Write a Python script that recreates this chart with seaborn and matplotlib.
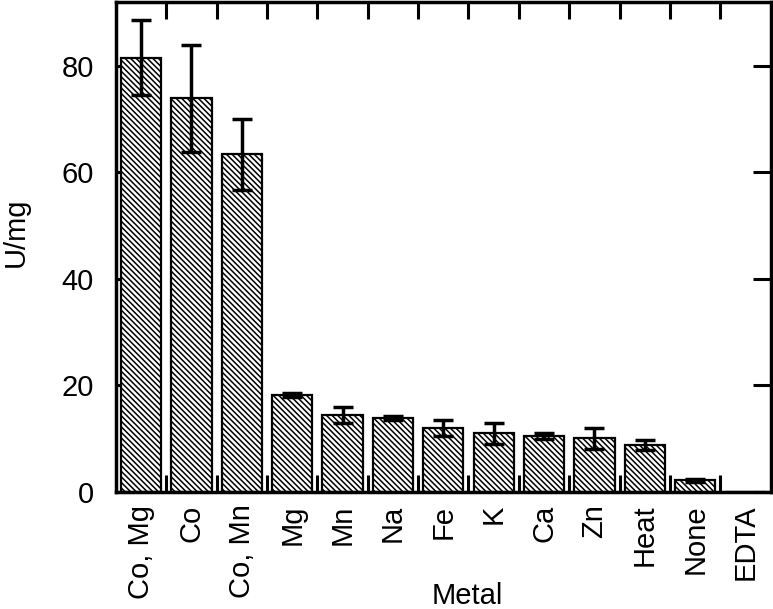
import matplotlib
matplotlib.use("Agg")
import matplotlib.pyplot as plt
import seaborn as sns
import numpy as np
import pandas as pd
from matplotlib.ticker import FixedLocator

metals = ["Co, Mg", "Co", "Co, Mn", "Mg", "Mn", "Na", "Fe", "K", "Ca", "Zn", "Heat", "None", "EDTA"]
activity = [81.5, 73.9, 63.4, 18.2, 14.4, 13.9, 12.0, 11.0, 10.5, 10.1, 8.8, 2.2, 0.0]
errors = [7.0, 10.0, 6.7, 0.4, 1.5, 0.4, 1.5, 2.0, 0.6, 2.0, 0.9, 0.3, 0.0]
yticks = [0, 20, 40, 60, 80]

sns.set_theme(style="ticks")
plt.rcParams['font.family'] = ['Liberation Sans', 'DejaVu Sans']
plt.rcParams['hatch.linewidth'] = 1.1
for k in ['text.color', 'axes.labelcolor', 'xtick.color', 'ytick.color', 'axes.edgecolor']:
    plt.rcParams[k] = 'black'

df = pd.DataFrame({"Metal": metals, "U/mg": activity})

fig = plt.figure(figsize=(7.73, 6.09), dpi=100)
ax = fig.add_axes([0.150, 0.192, 0.847, 0.805])

sns.barplot(data=df, x="Metal", y="U/mg", ax=ax, color="white",
            edgecolor="black", linewidth=1.6, width=0.8,
            hatch="\\\\\\\\\\\\", errorbar=None)

x = np.arange(len(metals))
err_mask = [e > 0 for e in errors]
ax.errorbar(x[err_mask], np.array(activity)[err_mask], yerr=np.array(errors)[err_mask],
            fmt="none", ecolor="black", elinewidth=2.5, capsize=7, capthick=2.5)

ax.set_xlim(-0.5, len(metals) - 0.5)
ax.set_ylim(0, 92)
ax.set_yticks(yticks)
ax.set_xticks(x)
ax.set_xticklabels(metals, rotation=90, fontsize=21)
ax.xaxis.set_minor_locator(FixedLocator(np.arange(0.5, len(metals) - 1, 1.0)))

ax.tick_params(axis="x", which="major", length=0, pad=9)
ax.tick_params(axis="x", which="minor", direction="in", length=12, width=2.2,
               top=True, bottom=True)
ax.tick_params(axis="y", which="major", direction="in", length=13, width=2.2,
               left=True, right=True, labelsize=21, pad=16)

for s in ax.spines.values():
    s.set_linewidth(2.5)
    s.set_color("black")

ax.set_xlabel("Metal", fontsize=21)
ax.xaxis.set_label_coords(0.537, -0.183)
ax.set_ylabel("U/mg", fontsize=21)
ax.yaxis.set_label_coords(-0.132, 0.53)

fig.savefig("out.png", dpi=100)
